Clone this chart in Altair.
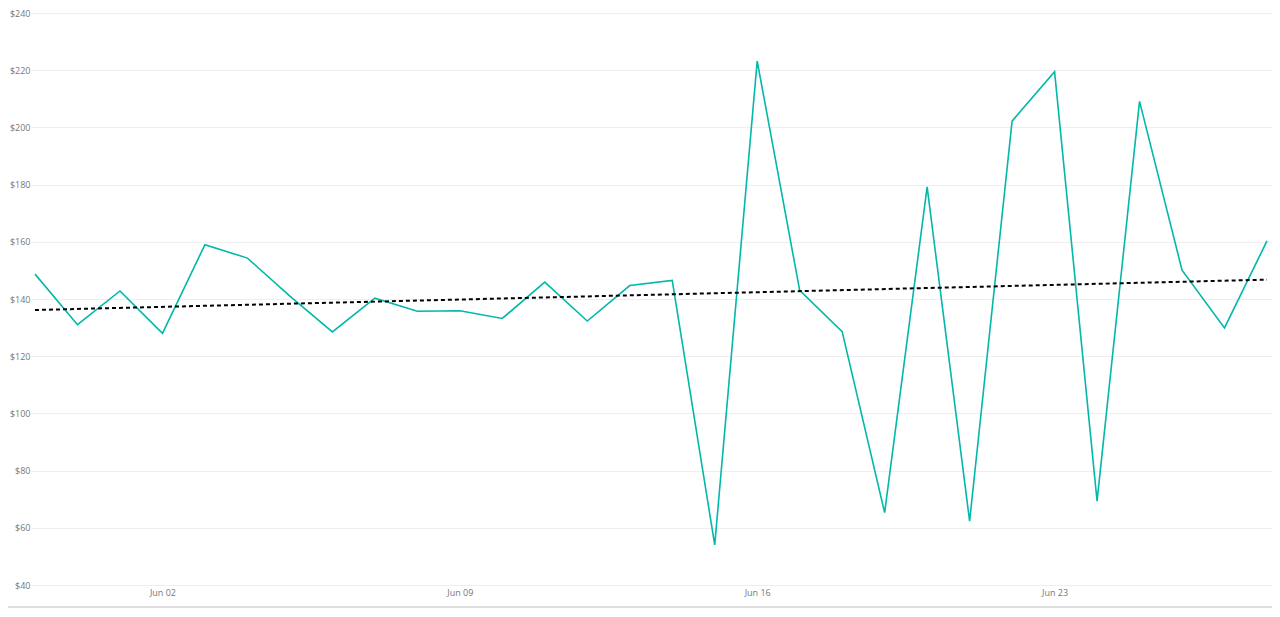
import altair as alt
import pandas as pd

dates = pd.date_range("2024-05-30", "2024-06-28", freq="D").strftime("%Y-%m-%dT00:00:00").tolist()
values = [148.7, 131.0, 142.8, 128.0, 159.0, 154.3, 141.0, 128.5, 140.3, 135.7,
          135.9, 133.2, 145.9, 132.3, 144.7, 146.5, 54.0, 223.2, 143.0, 128.6,
          65.3, 179.2, 62.3, 202.2, 219.5, 69.3, 209.1, 150.1, 129.9, 160.3]
y_ticks = [40, 60, 80, 100, 120, 140, 160, 180, 200, 220, 240]

df = pd.DataFrame({"date": dates, "value": values})

W, H = 1241, 572
x_scale = alt.Scale(domain=[alt.DateTime(year=2024, month=5, date=29, hours=21, minutes=44),
                            alt.DateTime(year=2024, month=6, date=28, hours=2, minutes=50)])
y_scale = alt.Scale(domain=[40, 240], nice=False)

x_enc = alt.X("date:T", scale=x_scale, title=None,
              axis=alt.Axis(format="%b %d", tickCount=alt.TickCount(interval="week", step=1),
                            grid=False, domain=False, ticks=False, labelPadding=3,
                            labelColor="#777777", labelFont="Open Sans", labelFontSize=9))
y_enc = alt.Y("value:Q", scale=y_scale, title=None,
              axis=alt.Axis(values=y_ticks, format="$,.0f", grid=True, gridColor="#eeeeee",
                            gridWidth=1, domain=False, ticks=False, labelPadding=1,
                            labelColor="#777777", labelFont="Open Sans", labelFontSize=9))

base = alt.Chart(df)

line = base.mark_line(color="#01B8AA", strokeWidth=1.6).encode(x=x_enc, y=y_enc)

trend = base.transform_regression("date", "value", method="linear").mark_line(
    color="#000000", strokeWidth=2, strokeDash=[4, 3]
).encode(x="date:T", y="value:Q")

sep = alt.Chart(pd.DataFrame({"a": [0]})).mark_rule(color="#d3d3d3", strokeWidth=1.5).encode(
    x=alt.value(-23), x2=alt.value(W), y=alt.value(H + 22)
)

chart = alt.layer(line, trend, sep).properties(
    width=W, height=H,
    autosize=alt.AutoSizeParams(type="none"),
    padding={"left": 23, "top": 5, "right": 0, "bottom": 25},
).configure_view(stroke=None)

chart.save("out.html", embed_options={"renderer": "svg", "actions": False})
